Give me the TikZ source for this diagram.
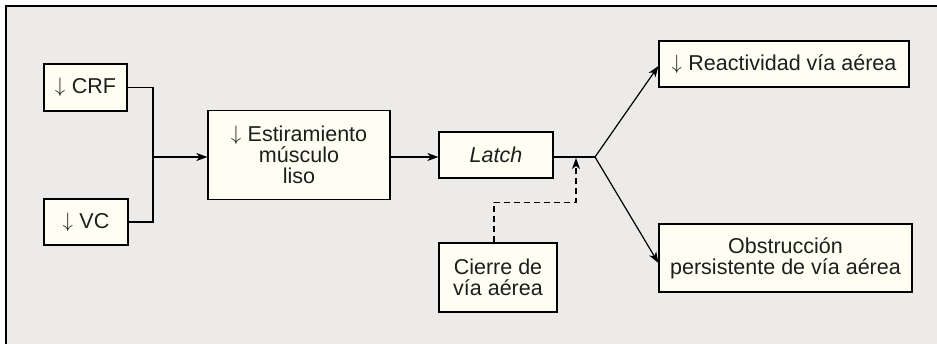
\documentclass[tikz,border=0pt]{standalone}
\usepackage{fontspec}
\setmainfont{Liberation Sans}
\usetikzlibrary{arrows.meta}
\definecolor{bggray}{RGB}{236,235,233}
\definecolor{boxfill}{RGB}{254,254,242}
\definecolor{txt}{RGB}{30,30,30}
\newcommand{\dn}{\raisebox{1pt}{$\downarrow$}\hspace{0.3em}}
\tikzset{
  stepbox/.style={draw=black, line width=1.2pt, fill=boxfill, align=center, inner sep=0pt,
    text=txt, font=\fontsize{21.5}{20.8}\selectfont},
  conn/.style={line width=1.2pt, draw=black},
  arr/.style={conn, -{Stealth[length=11pt,width=8pt,inset=3pt]}},
  darr/.style={arr, dash pattern=on 6pt off 4pt}
}
\begin{document}
\begin{tikzpicture}[x=1pt,y=-1pt]
\useasboundingbox (0,0) rectangle (937,343);
\fill[white] (0,0) rectangle (937,343);
\fill[bggray] (6,6) rectangle (940,346);
\draw[line width=1.3pt] (6,346) -- (6,6) -- (940,6);

\node[stepbox, minimum width=83pt, minimum height=47pt] (crf) at (85.5,87.5) {\dn CRF};
\node[stepbox, minimum width=84pt, minimum height=46pt] (vc) at (86,222) {\dn VC};
\node[stepbox, minimum width=182pt, minimum height=89pt] (est) at (299,155) {\dn Estiramiento\\músculo\\liso};
\node[stepbox, minimum width=114pt, minimum height=46pt] (latch) at (496,155) {\itshape Latch};
\node[stepbox, minimum width=118pt, minimum height=69pt] (cierre) at (498,277.5) {Cierre de\\vía aérea};
\node[stepbox, minimum width=250pt, minimum height=46pt] (react) at (784,64) {\dn Reactividad vía aérea};
\node[stepbox, minimum width=253pt, minimum height=68pt] (obst) at (785.5,258) {Obstrucción\\persistente de vía aérea};

\coordinate (j1) at (153,157);
\coordinate (j2) at (595,157);
\coordinate (dj) at (576,158);

\draw[conn] (crf.east) -| (j1);
\draw[conn] (vc.east) -| (j1);
\draw[arr] (j1) -- (est.west |- j1);
\draw[arr] (est.east |- j1) -- (latch.west |- j1);
\draw[conn] (latch.east |- j1) -- (j2);
\draw[arr] (j2) -- ([yshift=-2pt]react.west);
\draw[arr] (j2) -- ([yshift=-5pt]obst.west);
\draw[darr] ([xshift=-4pt]cierre.north) -- ++(0,-40) -| (dj);
\end{tikzpicture}
\end{document}
